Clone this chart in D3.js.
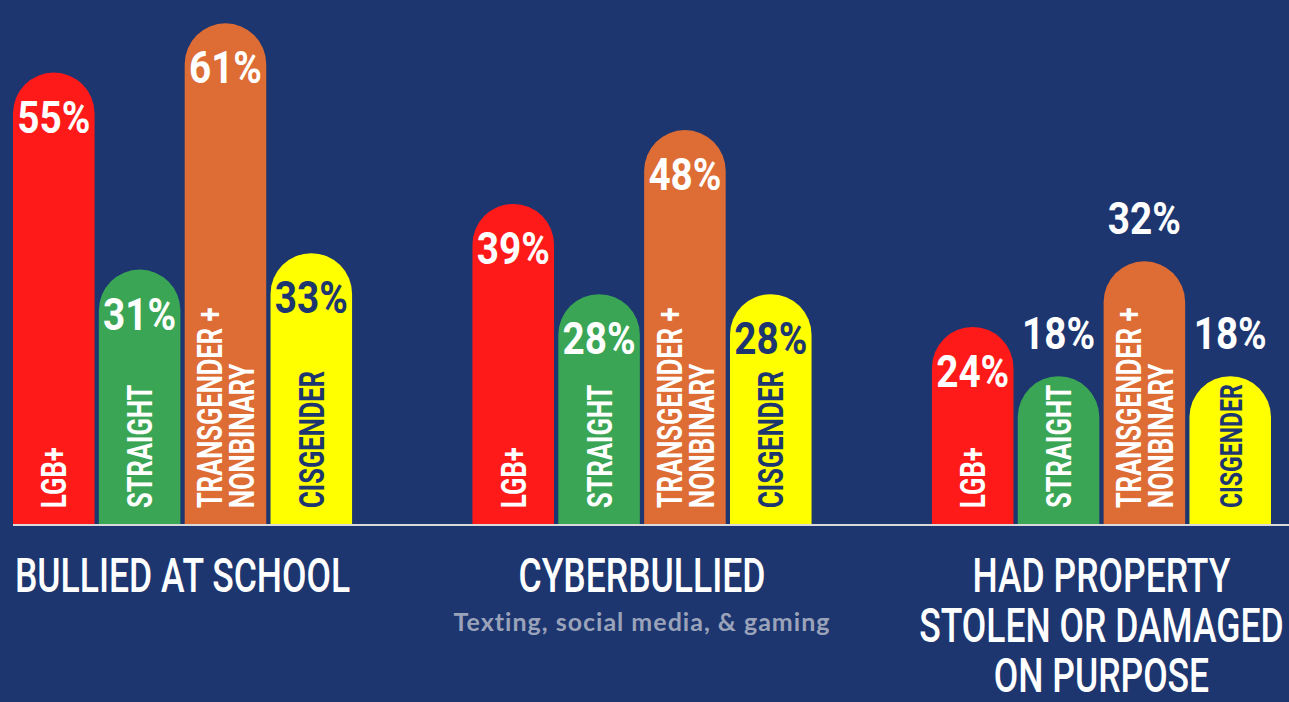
<!DOCTYPE html>
<html>
<head>
<meta charset="utf-8">
<script src="https://cdn.jsdelivr.net/npm/d3@7"></script>
<style>
  body { margin: 0; background: #1d3670; overflow: hidden; }
  text { font-family: Roboto, "DejaVu Sans Condensed", sans-serif; }
</style>
</head>
<body>
<div id="chart"></div>
<script>
// Groups and their titles
var groups = ["BULLIED AT SCHOOL", "CYBERBULLIED", "HAD PROPERTY STOLEN OR DAMAGED ON PURPOSE"];
var groupTitleLines = [["BULLIED AT SCHOOL"], ["CYBERBULLIED"], ["HAD PROPERTY", "STOLEN OR DAMAGED", "ON PURPOSE"]];
var groupSubtitles = ["", "Texting, social media, & gaming", ""];

// Categories inside each group
var categories = ["LGB+", "STRAIGHT", "TRANSGENDER + NONBINARY", "CISGENDER"];
var categoryLines = [["LGB+"], ["STRAIGHT"], ["TRANSGENDER +", "NONBINARY"], ["CISGENDER"]];
var categoryColors = ["#ff1a1a", "#3aa655", "#dd6c35", "#ffff00"];

// Percent values per group
var bulliedAtSchool = [55, 31, 61, 33];
var cyberbullied = [39, 28, 48, 28];
var propertyStolen = [24, 18, 32, 18];
var seriesValues = [bulliedAtSchool, cyberbullied, propertyStolen];

var chartInfo = {
    width: 1289,
    height: 702,
    divId: "#chart"
};
var bg = "#1d3670";
var baseY = 524;

var svg = d3.select(chartInfo.divId).append("svg")
    .attr("width", chartInfo.width)
    .attr("height", chartInfo.height);

svg.append("rect")
    .attr("width", chartInfo.width)
    .attr("height", chartInfo.height)
    .attr("fill", bg);

// Scales
var x0 = d3.scaleBand().domain(groups).range([13, 1271]).paddingInner(0.262);
var x1 = d3.scaleBand().domain(categories).range([0, x0.bandwidth()]).paddingInner(0.05);
var y = d3.scaleLinear().domain([0, 62.5]).range([baseY, 11]);

// bar with a round top
function roundBar(x, w, top) {
    var r = w / 2;
    return "M" + x + "," + baseY +
        "L" + x + "," + (top + r) +
        "A" + r + "," + r + " 0 0 1 " + (x + w) + "," + (top + r) +
        "L" + (x + w) + "," + baseY + "Z";
}

var rows = [];
groups.forEach(function(g, gi) {
    categories.forEach(function(c, ci) {
        rows.push({ group: g, gi: gi, cat: c, ci: ci, value: seriesValues[gi][ci] });
    });
});

var bars = svg.selectAll(".bar")
    .data(rows)
    .enter().append("g")
    .attr("class", "bar");

bars.append("path")
    .attr("d", function(d) {
        return roundBar(x0(d.group) + x1(d.cat), x1.bandwidth(), y(d.value));
    })
    .attr("fill", function(d) { return categoryColors[d.ci]; });

// baseline
svg.append("line")
    .attr("x1", x0.range()[0])
    .attr("x2", chartInfo.width)
    .attr("y1", baseY + 1)
    .attr("y2", baseY + 1)
    .style("stroke", "#d9d9d9")
    .style("stroke-width", 2);

// vertical category labels, then percent labels placed by what fits
var labelFs = 35;
var squeeze = 0.73; // fake a condensed face
bars.each(function(d) {
    var g = d3.select(this);
    var cx = x0(d.group) + x1(d.cat) + x1.bandwidth() / 2;
    var barH = baseY - y(d.value);
    var ink = d.ci === 3 ? bg : "#fff";
    var lines = categoryLines[d.ci];
    var lineGap = 32;

    var lab = g.append("g")
        .attr("transform", "translate(" + cx + "," + (baseY - 16) + ") rotate(-90) scale(" + squeeze + ",1)");
    var texts = lab.selectAll("text")
        .data(lines)
        .enter().append("text")
        .attr("y", function(t, i) { return (i - (lines.length - 1) / 2) * lineGap; })
        .attr("dy", "0.36em")
        .style("font-size", labelFs + "px")
        .style("font-weight", "bold")
        .style("fill", ink)
        .text(String);

    var len = 0;
    texts.each(function() { len = Math.max(len, this.getComputedTextLength() * squeeze); });
    if (len > barH - 24) {
        var k = (barH - 24) / len;
        texts.style("font-size", (labelFs * k) + "px");
        len = len * k;
    }

    var inside = barH - 16 - len >= 65;
    g.append("text")
        .attr("transform", "translate(" + cx + "," + (inside ? y(d.value) + 60 : y(d.value) - 27) + ") scale(0.88,1)")
        .attr("text-anchor", "middle")
        .style("font-size", "44px")
        .style("font-weight", "bold")
        .style("fill", inside ? ink : "#fff")
        .text(d.value + "%");
});

// group titles under the baseline
var titles = svg.selectAll(".group-title")
    .data(groups)
    .enter().append("g")
    .attr("class", "group-title")
    .attr("transform", function(g) {
        return "translate(" + (x0(g) + x0.bandwidth() / 2) + ",0)";
    });

titles.each(function(g, gi) {
    var t = d3.select(this);
    groupTitleLines[gi].forEach(function(line, li) {
        t.append("text")
            .attr("transform", "translate(0," + (592 + li * 50) + ") scale(0.74,1)")
            .attr("text-anchor", "middle")
            .style("font-size", "48px")
            .style("font-weight", "500")
            .style("fill", "#fff")
            .text(line);
    });
    if (groupSubtitles[gi]) {
        t.append("text")
            .attr("y", 631)
            .attr("text-anchor", "middle")
            .style("font-family", "Lato, 'Open Sans', sans-serif")
            .style("font-size", "25px")
            .style("font-weight", "bold")
            .style("letter-spacing", "1px")
            .style("fill", "#9aa3b9")
            .text(groupSubtitles[gi]);
    }
});
</script>
</body>
</html>
